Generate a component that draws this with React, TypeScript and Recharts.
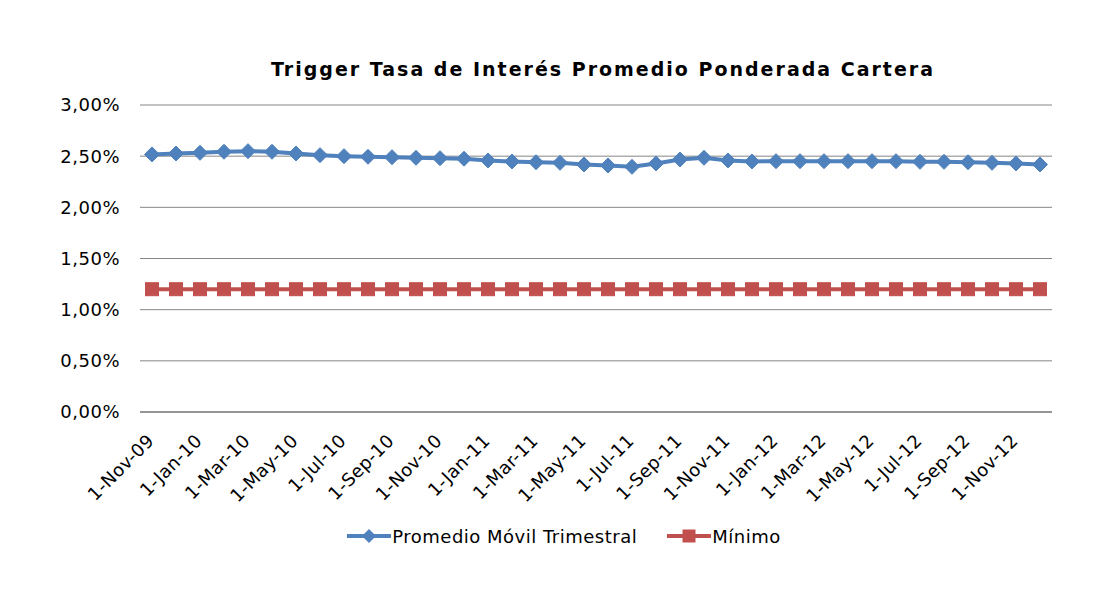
import React from 'react';
import { LineChart, Line, XAxis, YAxis, CartesianGrid, Legend } from 'recharts';

const months: string[] = [
  '1-Nov-09', '1-Dec-09',
  '1-Jan-10', '1-Feb-10', '1-Mar-10', '1-Apr-10', '1-May-10', '1-Jun-10',
  '1-Jul-10', '1-Aug-10', '1-Sep-10', '1-Oct-10', '1-Nov-10', '1-Dec-10',
  '1-Jan-11', '1-Feb-11', '1-Mar-11', '1-Apr-11', '1-May-11', '1-Jun-11',
  '1-Jul-11', '1-Aug-11', '1-Sep-11', '1-Oct-11', '1-Nov-11', '1-Dec-11',
  '1-Jan-12', '1-Feb-12', '1-Mar-12', '1-Apr-12', '1-May-12', '1-Jun-12',
  '1-Jul-12', '1-Aug-12', '1-Sep-12', '1-Oct-12', '1-Nov-12', '1-Dec-12',
];

const promedio: number[] = [
  2.517, 2.526,
  2.533, 2.543, 2.549, 2.543, 2.526, 2.51, 2.5, 2.494, 2.49, 2.484, 2.48, 2.475,
  2.458, 2.448, 2.441, 2.435, 2.419, 2.409, 2.396, 2.429, 2.468, 2.484, 2.458, 2.448,
  2.451, 2.451, 2.451, 2.451, 2.451, 2.451, 2.445, 2.445, 2.441, 2.435, 2.429, 2.419,
];

const minimo: number[] = [
  1.2, 1.2,
  1.2, 1.2, 1.2, 1.2, 1.2, 1.2, 1.2, 1.2, 1.2, 1.2, 1.2, 1.2,
  1.2, 1.2, 1.2, 1.2, 1.2, 1.2, 1.2, 1.2, 1.2, 1.2, 1.2, 1.2,
  1.2, 1.2, 1.2, 1.2, 1.2, 1.2, 1.2, 1.2, 1.2, 1.2, 1.2, 1.2,
];

const yTicks: number[] = [0, 0.5, 1, 1.5, 2, 2.5, 3];

const title = 'Trigger Tasa de Interés Promedio Ponderada Cartera';
const seriesNames = ['Promedio Móvil Trimestral', 'Mínimo'];

const BLUE = '#4F81BD';
const RED = '#C0504D';
const FONT = 'DejaVu Sans, Verdana, sans-serif';

const data = months.map((m, i) => ({ month: m, promedio: promedio[i], minimo: minimo[i] }));

const fmt = (v: number) => v.toFixed(2).replace('.', ',') + '%';

const Diamond = (props: any) => {
  const { cx, cy } = props;
  if (cx == null || cy == null) return null;
  const r = 7.5;
  return (
    <polygon
      points={`${cx},${cy - r} ${cx + r},${cy} ${cx},${cy + r} ${cx - r},${cy}`}
      fill={BLUE}
      stroke={BLUE}
      strokeWidth={1}
    />
  );
};

const Square = (props: any) => {
  const { cx, cy } = props;
  if (cx == null || cy == null) return null;
  const s = 13;
  return <rect x={cx - s / 2} y={cy - s / 2} width={s} height={s} fill={RED} stroke={RED} strokeWidth={1} />;
};

const XTick = (props: any) => {
  const { x, y, payload } = props;
  const ax = x + 3;
  const ay = y + 30;
  return (
    <text
      x={ax}
      y={ay}
      transform={`rotate(-45, ${ax}, ${ay})`}
      textAnchor="end"
      fontSize={18}
      fontFamily={FONT}
      fill="#000"
      letterSpacing={0.3}
    >
      {payload.value}
    </text>
  );
};

const LegendContent = () => (
  <div
    style={{
      height: 24,
      display: 'flex',
      justifyContent: 'center',
      alignItems: 'center',
      fontFamily: FONT,
      fontSize: 18,
      letterSpacing: 0.5,
      color: '#000',
      paddingLeft: 76,
    }}
  >
    <svg width={44} height={24} style={{ display: 'block' }}>
      <line x1={0} y1={12} x2={44} y2={12} stroke={BLUE} strokeWidth={4} />
      <polygon points="22,5 29,12 22,19 15,12" fill={BLUE} />
    </svg>
    <span style={{ marginLeft: 1 }}>{seriesNames[0]}</span>
    <svg width={44} height={24} style={{ display: 'block', marginLeft: 30 }}>
      <line x1={0} y1={12} x2={44} y2={12} stroke={RED} strokeWidth={4} />
      <rect x={15.5} y={5.5} width={13} height={13} fill={RED} />
    </svg>
    <span style={{ marginLeft: 1 }}>{seriesNames[1]}</span>
  </div>
);

export default function App() {
  return (
    <div style={{ position: 'absolute', left: 0, top: 0, width: 1109, height: 593, background: '#fff' }}>
      <div
        style={{
          position: 'absolute',
          left: 0,
          top: 57,
          width: 1206,
          textAlign: 'center',
          fontFamily: FONT,
          fontWeight: 'bold',
          fontSize: 19,
          letterSpacing: 2,
          color: '#000',
          lineHeight: '24px',
        }}
      >
        {title}
      </div>
      <LineChart
        width={1109}
        height={593}
        data={data}
        margin={{ top: 105, right: 57, bottom: 45, left: 0 }}
      >
        <CartesianGrid vertical={false} stroke="#868686" strokeWidth={1} />
        <XAxis
          dataKey="month"
          interval={1}
          tick={<XTick />}
          tickLine={false}
          tickSize={0}
          tickMargin={0}
          height={112}
          axisLine={{ stroke: '#868686', strokeWidth: 1.5 }}
          padding={{ left: 12, right: 12 }}
        />
        <YAxis
          domain={[0, 3]}
          ticks={yTicks}
          tickFormatter={fmt}
          width={140}
          axisLine={false}
          tickLine={false}
          tickSize={0}
          tickMargin={20}
          tick={{ fontSize: 18, fontFamily: FONT, fill: '#000', letterSpacing: 0.5 }}
        />
        <Legend verticalAlign="bottom" content={<LegendContent />} />
        <Line
          type="linear"
          dataKey="promedio"
          name={seriesNames[0]}
          stroke={BLUE}
          strokeWidth={4}
          dot={<Diamond />}
          activeDot={false}
          isAnimationActive={false}
        />
        <Line
          type="linear"
          dataKey="minimo"
          name={seriesNames[1]}
          stroke={RED}
          strokeWidth={4}
          dot={<Square />}
          activeDot={false}
          isAnimationActive={false}
        />
      </LineChart>
    </div>
  );
}
